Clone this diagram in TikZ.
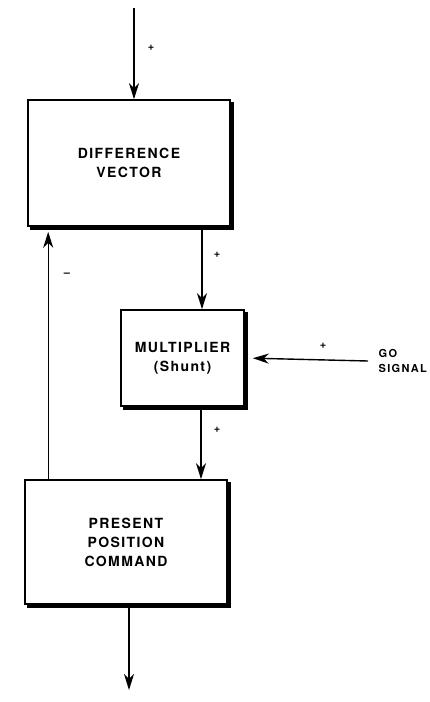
\documentclass[tikz,border=0pt]{standalone}
\usepackage{fontspec}
\setmainfont{TeX Gyre Heros}
\usetikzlibrary{arrows.meta}

\tikzset{
  block/.style={draw, line width=1.6pt, fill=white, align=center,
    font=\fontsize{14}{19}\selectfont\bfseries\addfontfeature{LetterSpace=10}},
  sign/.style={font=\fontsize{11}{11}\selectfont\bfseries, inner sep=0pt}
}

\begin{document}
\begin{tikzpicture}[x=1pt, y=-1pt, >={Stealth[length=16pt, width=10pt, inset=5pt]}, line width=1.4pt]
  \useasboundingbox (0,0) rectangle (430,702);
  % Blöcke
  \node[block, minimum width=202pt, minimum height=126pt] (dv) at (129,163) {DIFFERENCE\\VECTOR};
  \node[block, minimum width=123pt, minimum height=96pt] (mp) at (182.5,358) {MULTIPLIER\\(Shunt)};
  \node[block, minimum width=202pt, minimum height=124pt] (pp) at (126,542) {PRESENT\\POSITION\\COMMAND};
  \node[anchor=west, align=left, inner sep=0pt,
    font=\fontsize{11}{15}\selectfont\bfseries\addfontfeature{LetterSpace=12}] (go) at (378,361) {GO\\SIGNAL};
  \coordinate (in) at (134,8);
  \coordinate (out) at (129,690);

  % Schatten rechts und unten
  \foreach \b in {dv,mp,pp}
    \draw[line width=3pt] ([xshift=2pt,yshift=-3pt]\b.north east) -- ([xshift=2pt,yshift=-2pt]\b.south east)
      -- ([xshift=3pt,yshift=-2pt]\b.south west);

  % Pfeile
  \draw[->] (in) -- (in |- dv.north);
  \draw[->] ([xshift=73pt]dv.south) -- ([xshift=19.5pt]mp.north);
  \draw[->] ([xshift=18.5pt]mp.south) -- ([xshift=75pt]pp.north);
  \draw[->] ([xshift=3pt]pp.south) -- (out);
  \draw[->, shorten >=8pt] ([xshift=-10pt]go.west) -- (mp.east);
  \draw[->, shorten >=5pt] ([xshift=24pt]pp.north west) -- ([xshift=21pt]dv.south west);

  % Vorzeichen
  \node[sign] (s1) at (151,48) {+};
  \node[sign] (s2) at (217,255) {+};
  \node[sign] (s3) at (323,346) {+};
  \node[sign] (s4) at (217,430) {+};
  \node[sign] (s5) at (67,275) {--};
\end{tikzpicture}
\end{document}
